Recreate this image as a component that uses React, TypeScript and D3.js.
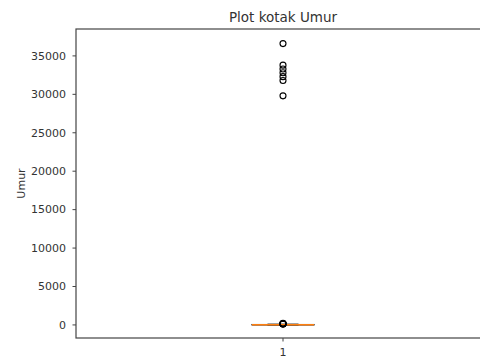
import { useEffect, useRef } from "react"
import * as d3 from "d3"

// box statistics for "Umur" (values near zero)
const boxStats = [{ label: "1", whiskerLow: 0, q1: 20, median: 40, q3: 60, whiskerHigh: 100 }]
// outliers
const fliers = [36600, 33800, 33300, 32800, 32300, 31800, 29800, 110, 130, 150, 170, 190, 210]
const yTicks = [0, 5000, 10000, 15000, 20000, 25000, 30000, 35000]

const W = 480
const H = 358

export default function App() {
  const svgRef = useRef<SVGSVGElement | null>(null)

  useEffect(() => {
    if (!svgRef.current) return
    const svg = d3.select(svgRef.current)
    svg.selectAll("*").remove()

    const left = 76
    const top = 29
    const bottom = 338
    const right = 490
    const font = "DejaVu Sans, sans-serif"

    const y = d3.scaleLinear().domain([-1700, 38500]).range([bottom, top])
    const x = d3.scaleLinear().domain([0.5, 1.5]).range([left, right])
    const boxW = x(1.075) - x(0.925)

    // frame
    svg.append("rect")
      .attr("x", left).attr("y", top)
      .attr("width", right - left).attr("height", bottom - top)
      .attr("fill", "none").attr("stroke", "#444").attr("stroke-width", 1.2)

    // y axis ticks
    const ty = svg.append("g")
    yTicks.forEach((t) => {
      ty.append("line")
        .attr("x1", left - 3.5).attr("x2", left)
        .attr("y1", y(t)).attr("y2", y(t))
        .attr("stroke", "#444")
      ty.append("text")
        .attr("x", left - 10).attr("y", y(t))
        .attr("dy", "0.35em").attr("text-anchor", "end")
        .attr("font-family", font).attr("font-size", 11).attr("fill", "#333")
        .text(t)
    })

    // x tick
    boxStats.forEach((b, i) => {
      const cx = x(i + 1)
      svg.append("line")
        .attr("x1", cx).attr("x2", cx).attr("y1", bottom).attr("y2", bottom + 3.5)
        .attr("stroke", "#444")
      svg.append("text")
        .attr("x", cx).attr("y", bottom + 18)
        .attr("text-anchor", "middle")
        .attr("font-family", font).attr("font-size", 11).attr("fill", "#333")
        .text(b.label)

      const g = svg.append("g")
      // whiskers
      g.append("line").attr("x1", cx).attr("x2", cx).attr("y1", y(b.whiskerLow)).attr("y2", y(b.q1)).attr("stroke", "#000")
      g.append("line").attr("x1", cx).attr("x2", cx).attr("y1", y(b.q3)).attr("y2", y(b.whiskerHigh)).attr("stroke", "#000")
      g.append("line").attr("x1", cx - boxW / 4).attr("x2", cx + boxW / 4).attr("y1", y(b.whiskerLow)).attr("y2", y(b.whiskerLow)).attr("stroke", "#000")
      g.append("line").attr("x1", cx - boxW / 4).attr("x2", cx + boxW / 4).attr("y1", y(b.whiskerHigh)).attr("y2", y(b.whiskerHigh)).attr("stroke", "#000")
      g.append("rect")
        .attr("x", cx - boxW / 2).attr("y", y(b.q3))
        .attr("width", boxW).attr("height", Math.max(0.5, y(b.q1) - y(b.q3)))
        .attr("fill", "none").attr("stroke", "#000")
      g.append("line")
        .attr("x1", cx - boxW / 2).attr("x2", cx + boxW / 2)
        .attr("y1", y(b.median)).attr("y2", y(b.median))
        .attr("stroke", "#ff7f0e").attr("stroke-width", 1.5)

      g.selectAll("circle.flier")
        .data(fliers)
        .enter()
        .append("circle")
        .attr("class", "flier")
        .attr("cx", cx).attr("cy", (d) => y(d))
        .attr("r", 3)
        .attr("fill", "none").attr("stroke", "#000").attr("stroke-width", 1.1)
    })

    // title
    svg.append("text")
      .attr("x", (left + right) / 2).attr("y", top - 7)
      .attr("text-anchor", "middle")
      .attr("font-family", font).attr("font-size", 13.5).attr("fill", "#333")
      .text("Plot kotak Umur")

    // y label
    svg.append("text")
      .attr("transform", `translate(${25},${(top + bottom) / 2}) rotate(-90)`)
      .attr("text-anchor", "middle")
      .attr("font-family", font).attr("font-size", 11).attr("fill", "#333")
      .text("Umur")
  }, [])

  return (
    <svg
      ref={svgRef}
      width={W}
      height={H}
      style={{ position: "absolute", left: 0, top: 0, background: "#fff" }}
    />
  )
}
